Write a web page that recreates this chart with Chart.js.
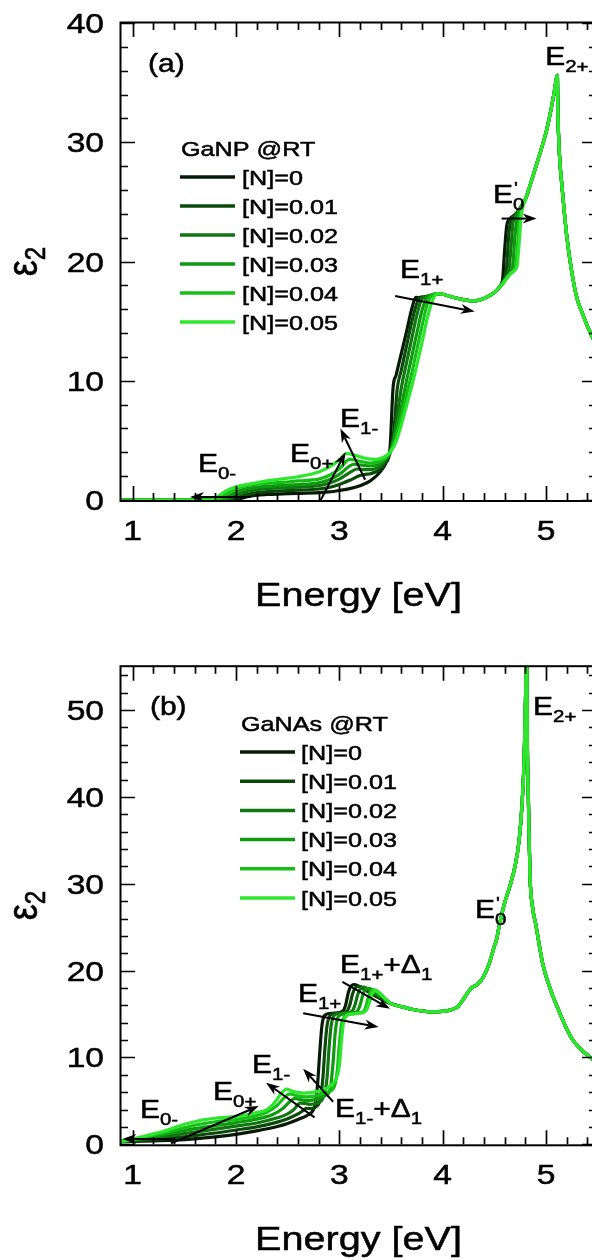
<!DOCTYPE html>
<html>
<head>
<meta charset="utf-8">
<script src="https://cdn.jsdelivr.net/npm/chart.js@4.4.1/dist/chart.umd.min.js"></script>
<style>
  html, body { margin: 0; padding: 0; background: #fff; overflow: hidden; width: 592px; height: 1260px; }
  .panel { position: absolute; left: 0; width: 600px; height: 630px; }
  #wrapA { top: 0; }
  #wrapB { top: 630px; }
  canvas { display: block; }
</style>
</head>
<body>
<div class="panel" id="wrapA"><canvas id="chartA" width="600" height="630"></canvas></div>
<div class="panel" id="wrapB"><canvas id="chartB" width="600" height="630"></canvas></div>
<script>
// ---- series labels and colours ([N] content) ----
const N_LABELS = ['[N]=0', '[N]=0.01', '[N]=0.02', '[N]=0.03', '[N]=0.04', '[N]=0.05'];
const N_COLORS = ['#071a07', '#0b4a0b', '#117511', '#0f990f', '#16bf16', '#2ee62e'];

// ---- tick labels ----
const X_TICKS = [1, 2, 3, 4, 5];
const Y_TICKS_A = [0, 10, 20, 30, 40];
const Y_TICKS_B = [0, 10, 20, 30, 40, 50];

// ---- GaNP, eps2 vs energy [eV] ----
const GANP_MID = [[3.95,17.3],[4.0,17.25],[4.1,17.0],[4.2,16.8],[4.3,16.7],[4.4,16.9],[4.5,17.4],[4.55,17.85]];
const GANP_TAIL = [[4.8,25.2],[4.85,26.5],[4.9,27.9],[4.95,29.3],[5.0,30.8],[5.05,32.8],[5.08,34.2],[5.11,35.6],[5.115,32.6],[5.13,29.0],[5.155,26.3],[5.2,22.2],[5.25,19.1],[5.3,16.9],[5.35,15.7],[5.4,14.6],[5.484,13.0]];

const ganp000 = [[0.887,0],[1.6,0],[1.95,0],[2.0,0.03],[2.05,0.12],[2.1,0.25],[2.2,0.4],[2.3,0.46],[2.4,0.5],[2.6,0.55],[2.8,0.62],[2.9,0.68],[3.0,0.8],[3.1,0.95],[3.2,1.2],[3.3,1.6],[3.4,2.4],[3.45,3.1],[3.49,4.3],[3.52,9.4],[3.55,10.5],[3.6,12.3],[3.65,14.1],[3.7,16.0],[3.74,17.0],[3.8,16.95],[3.85,17.0],[3.9,17.15],
  ...GANP_MID, [4.58,18.5],[4.6,21.0],[4.62,23.0],[4.64,23.5],[4.68,23.8],[4.72,24.1],[4.76,24.6], ...GANP_TAIL];
const ganp001 = [[0.887,0],[1.6,0],[1.92,0],[1.96,0.04],[2.0,0.15],[2.1,0.45],[2.2,0.62],[2.3,0.7],[2.4,0.75],[2.6,0.82],[2.8,0.92],[2.9,1.05],[3.0,1.3],[3.1,1.65],[3.2,2.05],[3.25,2.15],[3.3,2.2],[3.4,2.6],[3.45,3.2],[3.5,4.2],[3.53,6.0],[3.56,9.3],[3.6,10.9],[3.65,12.9],[3.7,14.9],[3.75,16.5],[3.78,17.0],[3.85,17.05],[3.9,17.15],
  ...GANP_MID, [4.58,18.3],[4.6,18.6],[4.62,19.6],[4.64,22.3],[4.66,23.4],[4.7,23.9],[4.74,24.3],[4.76,24.6], ...GANP_TAIL];
const ganp002 = [[0.887,0],[1.6,0],[1.87,0],[1.91,0.04],[1.95,0.18],[2.0,0.4],[2.1,0.7],[2.2,0.86],[2.3,0.95],[2.4,1.0],[2.6,1.08],[2.8,1.2],[2.9,1.4],[3.0,1.75],[3.1,2.3],[3.17,2.6],[3.25,2.55],[3.3,2.55],[3.4,2.9],[3.45,3.4],[3.5,4.2],[3.55,6.5],[3.6,9.4],[3.65,11.5],[3.7,13.5],[3.75,15.5],[3.8,16.9],[3.85,17.1],[3.9,17.2],
  ...GANP_MID, [4.58,18.2],[4.62,18.8],[4.64,19.2],[4.66,21.0],[4.68,23.2],[4.7,23.8],[4.74,24.3],[4.76,24.6], ...GANP_TAIL];
const ganp003 = [[0.887,0],[1.6,0],[1.83,0],[1.87,0.05],[1.92,0.3],[2.0,0.65],[2.1,0.95],[2.2,1.08],[2.3,1.15],[2.4,1.2],[2.6,1.3],[2.8,1.45],[2.9,1.7],[3.0,2.15],[3.1,2.85],[3.14,3.0],[3.2,2.95],[3.3,2.85],[3.4,3.1],[3.45,3.45],[3.5,4.2],[3.55,5.8],[3.6,7.8],[3.65,10.0],[3.7,12.0],[3.75,14.0],[3.8,15.9],[3.85,17.0],[3.9,17.2],
  ...GANP_MID, [4.58,18.2],[4.62,18.7],[4.66,19.1],[4.68,19.8],[4.7,22.2],[4.72,23.6],[4.74,24.2],[4.76,24.6], ...GANP_TAIL];
const ganp004 = [[0.887,0],[1.6,0],[1.79,0],[1.83,0.06],[1.88,0.35],[1.95,0.75],[2.0,0.95],[2.1,1.2],[2.2,1.33],[2.3,1.4],[2.4,1.45],[2.6,1.6],[2.8,1.75],[2.9,2.05],[3.0,2.6],[3.1,3.4],[3.2,3.25],[3.3,3.1],[3.4,3.3],[3.45,3.55],[3.5,4.1],[3.55,5.3],[3.6,7.0],[3.65,8.8],[3.7,10.6],[3.75,12.6],[3.8,14.6],[3.85,16.4],[3.9,17.2],
  ...GANP_MID, [4.58,18.1],[4.62,18.6],[4.66,19.0],[4.7,19.4],[4.72,20.8],[4.74,23.3],[4.76,24.4], ...GANP_TAIL];
const ganp005 = [[0.887,0],[1.6,0],[1.75,0],[1.79,0.08],[1.85,0.45],[1.9,0.75],[2.0,1.1],[2.1,1.3],[2.2,1.45],[2.3,1.6],[2.4,1.72],[2.6,1.95],[2.8,2.35],[2.9,2.75],[3.0,3.35],[3.07,3.9],[3.15,3.75],[3.25,3.5],[3.35,3.4],[3.45,3.7],[3.5,4.1],[3.55,4.9],[3.6,6.3],[3.65,7.9],[3.7,9.5],[3.75,11.3],[3.8,13.2],[3.85,15.2],[3.9,16.7],
  ...GANP_MID, [4.58,18.1],[4.62,18.6],[4.66,19.0],[4.7,19.3],[4.72,19.6],[4.74,21.5],[4.76,23.8], ...GANP_TAIL];

// ---- GaNAs, eps2 vs energy [eV] ----
const GANAS_TAIL = [[3.5,16.2],[3.6,15.85],[3.7,15.55],[3.8,15.35],[3.9,15.25],[4.0,15.3],[4.1,15.55],[4.15,15.9],[4.2,16.7],[4.25,17.6],[4.29,18.1],[4.33,18.35],[4.39,19.2],[4.45,20.8],[4.5,22.8],[4.52,23.5],[4.55,25.3],[4.6,27.8],[4.65,29.7],[4.7,32.0],[4.74,35.0],[4.77,39.5],[4.79,45.0],[4.805,53.0],[4.813,59.0],[4.82,46.0],[4.83,39.5],[4.845,31.0],[4.87,27.3],[4.9,25.4],[4.97,20.7],[5.05,17.6],[5.11,15.8],[5.2,13.3],[5.26,12.0],[5.35,10.8],[5.484,9.5]];

const ganas000 = [[0.887,0.3],[1.0,0.32],[1.2,0.38],[1.4,0.47],[1.6,0.62],[1.8,0.85],[2.0,1.15],[2.2,1.55],[2.4,2.05],[2.5,2.4],[2.6,2.85],[2.7,3.4],[2.74,3.8],[2.77,4.8],[2.79,7.0],[2.81,10.5],[2.83,13.5],[2.85,14.7],[2.88,15.0],[2.95,15.1],[3.03,15.3],[3.06,16.0],[3.09,17.6],[3.12,18.3],[3.15,18.4],[3.2,18.1],[3.3,17.4],[3.4,16.75], ...GANAS_TAIL];
const ganas001 = [[0.887,0.3],[1.0,0.38],[1.2,0.55],[1.4,0.75],[1.6,1.0],[1.8,1.3],[2.0,1.65],[2.2,2.0],[2.4,2.55],[2.5,2.95],[2.6,3.5],[2.65,3.9],[2.68,4.15],[2.72,4.1],[2.77,4.3],[2.81,5.0],[2.84,7.5],[2.86,11.0],[2.88,13.6],[2.9,14.6],[2.93,15.0],[3.0,15.1],[3.07,15.3],[3.1,16.0],[3.13,17.4],[3.16,18.1],[3.19,18.2],[3.25,17.9],[3.3,17.5],[3.4,16.8], ...GANAS_TAIL];
const ganas002 = [[0.887,0.32],[1.0,0.45],[1.2,0.72],[1.4,1.05],[1.6,1.4],[1.8,1.75],[2.0,2.1],[2.2,2.45],[2.4,3.05],[2.5,3.5],[2.56,4.0],[2.62,4.75],[2.67,4.7],[2.72,4.6],[2.78,4.75],[2.84,5.3],[2.88,7.5],[2.9,11.0],[2.92,13.6],[2.94,14.6],[2.97,15.0],[3.05,15.1],[3.12,15.3],[3.15,16.0],[3.18,17.3],[3.21,18.0],[3.24,18.1],[3.3,17.7],[3.4,16.9], ...GANAS_TAIL];
const ganas003 = [[0.887,0.33],[1.0,0.5],[1.2,0.9],[1.4,1.35],[1.6,1.8],[1.8,2.15],[2.0,2.5],[2.2,2.9],[2.35,3.4],[2.45,4.1],[2.52,4.9],[2.57,5.3],[2.62,5.15],[2.7,5.05],[2.78,5.2],[2.86,5.6],[2.91,6.3],[2.94,9.5],[2.96,12.8],[2.98,14.4],[3.01,14.9],[3.1,15.1],[3.17,15.3],[3.2,16.0],[3.23,17.3],[3.26,17.9],[3.29,17.95],[3.35,17.5],[3.42,16.9], ...GANAS_TAIL];
const ganas004 = [[0.887,0.34],[1.0,0.55],[1.2,1.05],[1.4,1.6],[1.6,2.2],[1.8,2.6],[2.0,2.85],[2.2,3.3],[2.3,3.7],[2.4,4.5],[2.47,5.4],[2.52,5.8],[2.58,5.6],[2.68,5.45],[2.78,5.6],[2.88,6.0],[2.95,6.6],[2.98,8.5],[3.0,11.5],[3.02,13.8],[3.05,14.7],[3.1,15.0],[3.22,15.2],[3.25,15.6],[3.28,16.9],[3.31,17.7],[3.34,17.8],[3.4,17.3],[3.45,16.7], ...GANAS_TAIL];
const ganas005 = [[0.887,0.35],[1.0,0.6],[1.1,0.9],[1.2,1.2],[1.3,1.5],[1.4,1.9],[1.5,2.3],[1.6,2.6],[1.7,2.85],[1.8,3.0],[1.9,3.1],[2.0,3.2],[2.1,3.4],[2.2,3.65],[2.3,4.0],[2.38,4.9],[2.44,5.9],[2.49,6.35],[2.55,6.1],[2.65,5.9],[2.75,6.0],[2.85,6.3],[2.92,6.8],[2.97,7.6],[3.0,9.0],[3.02,11.8],[3.04,14.0],[3.07,14.8],[3.12,15.0],[3.2,15.1],[3.26,15.4],[3.29,16.3],[3.32,17.4],[3.35,17.7],[3.4,17.25],[3.45,16.7], ...GANAS_TAIL];

// ---- transition markers: arrows (energy, eps2) and labels ----
const ARROWS_A = [
  [[2.14, 0.25], [1.555, 0.25]],
  [[2.82, 0.0], [3.06, 4.0]],
  [[3.25, 1.7], [3.01, 6.0]],
  [[3.54, 17.1], [4.31, 15.8]],
  [[4.57, 23.6], [4.91, 23.6]]
];
const ARROWS_B = [
  [[1.40, 0.6], [0.90, 0.6]],
  [[1.37, 0.1], [2.22, 4.4]],
  [[2.76, 3.1], [2.29, 7.1]],
  [[2.94, 4.9], [2.65, 8.7]],
  [[2.65, 15.1], [3.38, 13.5]],
  [[3.03, 18.7], [3.49, 15.6]]
];
// parts: 0 = main text, 1 = subscript, 2 = superscript (no advance)
const LABELS_A = [
  { at: [1.632, 2.35], parts: [['E', 0], ['0-', 1]] },
  { at: [2.523, 3.19], parts: [['E', 0], ['0+', 1]] },
  { at: [3.007, 6.12], parts: [['E', 0], ['1-', 1]] },
  { at: [3.588, 18.62], parts: [['E', 0], ['1+', 1]] },
  { at: [4.488, 24.9], parts: [['E', 0], ["'", 2], ['0', 1]] },
  { at: [4.992, 36.48], parts: [['E', 0], ['2+', 1]] },
  { at: [1.148, 35.9], parts: [['(a)', 0]] }
];
const LABELS_B = [
  { at: [1.071, 3.03], parts: [['E', 0], ['0-', 1]] },
  { at: [1.778, 5.10], parts: [['E', 0], ['0+', 1]] },
  { at: [2.155, 8.21], parts: [['E', 0], ['1-', 1]] },
  { at: [2.959, 3.14], parts: [['E', 0], ['1-', 1], ['+\u0394', 0], ['1', 1]] },
  { at: [2.600, 16.39], parts: [['E', 0], ['1+', 1]] },
  { at: [3.007, 19.73], parts: [['E', 0], ['1+', 1], ['+\u0394', 0], ['1', 1]] },
  { at: [4.314, 26.06], parts: [['E', 0], ["'", 2], ['0', 1]] },
  { at: [4.875, 49.43], parts: [['E', 0], ['2+', 1]] },
  { at: [1.167, 49.4], parts: [['(b)', 0]] }
];

// ---- drawing helpers ----
const FONT = '"Liberation Sans", Arial, Helvetica, sans-serif';
const SX = 1.2; // horizontal stretch of the figure lettering

function textS(ctx, str, x, y, size, align) {
  ctx.save();
  ctx.font = size + 'px ' + FONT;
  ctx.textAlign = 'left';
  ctx.textBaseline = 'alphabetic';
  const w = ctx.measureText(str).width * SX;
  let x0 = x;
  if (align === 'center') x0 = x - w / 2;
  else if (align === 'right') x0 = x - w;
  ctx.translate(x0, y);
  ctx.scale(SX, 1);
  ctx.fillStyle = '#000';
  ctx.strokeStyle = '#000';
  ctx.lineWidth = 0.5;
  ctx.fillText(str, 0, 0);
  ctx.strokeText(str, 0, 0);
  ctx.restore();
  return w;
}

function richLabel(ctx, x, y, parts) {
  let cx = x;
  for (const [t, kind] of parts) {
    if (kind === 0) cx += textS(ctx, t, cx, y, 25, 'left');
    else if (kind === 1) cx += textS(ctx, t, cx, y + 7, 17, 'left');
    else textS(ctx, t, cx + 1, y - 9, 17, 'left');
  }
}

function arrow(ctx, x0, y0, x1, y1) {
  const ang = Math.atan2(y1 - y0, x1 - x0);
  const L = 14, W = 5;
  const c = Math.cos(ang), s = Math.sin(ang);
  const bx = x1 - L * c, by = y1 - L * s;
  ctx.beginPath();
  ctx.moveTo(x0, y0);
  ctx.lineTo(bx + 4 * c, by + 4 * s);
  ctx.stroke();
  ctx.beginPath();
  ctx.moveTo(x1, y1);
  ctx.lineTo(bx + W * s, by - W * c);
  ctx.lineTo(bx + 0.3 * L * c, by + 0.3 * L * s);
  ctx.lineTo(bx - W * s, by + W * c);
  ctx.closePath();
  ctx.fill();
}

const panelDecor = {
  id: 'panelDecor',
  afterDatasetsDraw(chart, args, opts) {
    const { ctx, chartArea: a, scales: { x, y } } = chart;
    ctx.save();
    ctx.strokeStyle = '#000';
    ctx.fillStyle = '#000';
    // frame, sitting just outside the plotting area
    ctx.lineWidth = 2;
    ctx.strokeRect(a.left - 0.5, a.top - 0.5, a.right - a.left + 1, a.bottom - a.top + 1.5);
    // inward ticks on all four sides
    ctx.lineWidth = 1.7;
    ctx.beginPath();
    for (let k = Math.ceil(x.min / 0.2 - 1e-9); k * 0.2 <= x.max + 1e-9; k++) {
      const px = Math.round(x.getPixelForValue(k * 0.2)) + 0.5;
      const len = (k % 5 === 0) ? 14 : 7;
      ctx.moveTo(px, a.bottom); ctx.lineTo(px, a.bottom - len);
      ctx.moveTo(px, a.top); ctx.lineTo(px, a.top + len);
    }
    for (let k = 0; k * 2 <= y.max + 1e-9; k++) {
      const py = Math.round(y.getPixelForValue(k * 2)) + 0.5;
      const len = (k % 5 === 0) ? 14 : 7;
      ctx.moveTo(a.left, py); ctx.lineTo(a.left + len, py);
      ctx.moveTo(a.right, py); ctx.lineTo(a.right - len, py);
    }
    ctx.stroke();
    // tick labels
    for (const v of opts.yTicks) textS(ctx, String(v), 104, y.getPixelForValue(v) + 10, 28, 'right');
    for (const v of X_TICKS) textS(ctx, String(v), x.getPixelForValue(v), a.bottom + 40, 28, 'center');
    // axis titles
    textS(ctx, 'Energy [eV]', (a.left + a.right) / 2, a.bottom + 106, 33, 'center');
    const midY = (a.top + a.bottom) / 2;
    ctx.save();
    ctx.translate(37, midY);
    ctx.scale(SX, 1);
    ctx.rotate(-Math.PI / 2);
    ctx.lineWidth = 0.5;
    ctx.font = '36px ' + FONT;
    const w1 = ctx.measureText('\u03b5').width;
    ctx.font = '24px ' + FONT;
    const w2 = ctx.measureText('2').width;
    const s = -(w1 + w2) / 2;
    ctx.font = '36px ' + FONT;
    ctx.fillText('\u03b5', s, 0);
    ctx.strokeText('\u03b5', s, 0);
    ctx.font = '24px ' + FONT;
    ctx.fillText('2', s + w1, 7);
    ctx.strokeText('2', s + w1, 7);
    ctx.restore();
    // arrows
    ctx.lineWidth = 2;
    for (const [p0, p1] of opts.arrows) {
      arrow(ctx, x.getPixelForValue(p0[0]), y.getPixelForValue(p0[1]),
                 x.getPixelForValue(p1[0]), y.getPixelForValue(p1[1]));
    }
    // labels
    for (const lab of opts.labels) {
      richLabel(ctx, x.getPixelForValue(lab.at[0]), y.getPixelForValue(lab.at[1]), lab.parts);
    }
    // legend
    const lg = opts.legend;
    textS(ctx, lg.title, lg.titleX, lg.titleY + 7.5, 21, 'left');
    chart.data.datasets.forEach((ds, i) => {
      const ry = lg.rowY + i * lg.rowGap;
      ctx.strokeStyle = ds.borderColor;
      ctx.lineWidth = 3.5;
      ctx.beginPath();
      ctx.moveTo(lg.lineX0, ry); ctx.lineTo(lg.lineX1, ry);
      ctx.stroke();
      textS(ctx, ds.label, lg.labelX, ry + 7.5, 21, 'left');
    });
    ctx.restore();
  }
};

function makeChart(id, seriesList, yMax, pad, decor) {
  return new Chart(document.getElementById(id), {
    type: 'line',
    data: {
      datasets: seriesList.map((pts, i) => ({
        label: N_LABELS[i],
        data: pts.map(([e, v]) => ({ x: e, y: v })),
        borderColor: N_COLORS[i],
        borderWidth: 3.2,
        pointRadius: 0,
        fill: false,
        cubicInterpolationMode: 'monotone',
        order: seriesList.length - 1 - i
      }))
    },
    options: {
      responsive: false,
      devicePixelRatio: 1,
      animation: false,
      events: [],
      layout: { padding: pad },
      scales: {
        x: { type: 'linear', min: 0.887, max: 5.484, display: false },
        y: { type: 'linear', min: 0, max: yMax, display: false }
      },
      plugins: {
        legend: { display: false },
        tooltip: { enabled: false },
        panelDecor: decor
      }
    },
    plugins: [panelDecor]
  });
}

makeChart('chartA', [ganp000, ganp001, ganp002, ganp003, ganp004, ganp005], 40,
  { left: 121, right: 4, top: 23, bottom: 130 },
  { yTicks: Y_TICKS_A, arrows: ARROWS_A, labels: LABELS_A,
    legend: { title: 'GaNP @RT', titleX: 181, titleY: 148, lineX0: 180, lineX1: 235, labelX: 242, rowY: 177, rowGap: 29 } });

makeChart('chartB', [ganas000, ganas001, ganas002, ganas003, ganas004, ganas005], 55,
  { left: 121, right: 4, top: 36.7, bottom: 115.7 },
  { yTicks: Y_TICKS_B, arrows: ARROWS_B, labels: LABELS_B,
    legend: { title: 'GaNAs @RT', titleX: 241, titleY: 93, lineX0: 240, lineX1: 295, labelX: 301, rowY: 122, rowGap: 29.2 } });
</script>
</body>
</html>
